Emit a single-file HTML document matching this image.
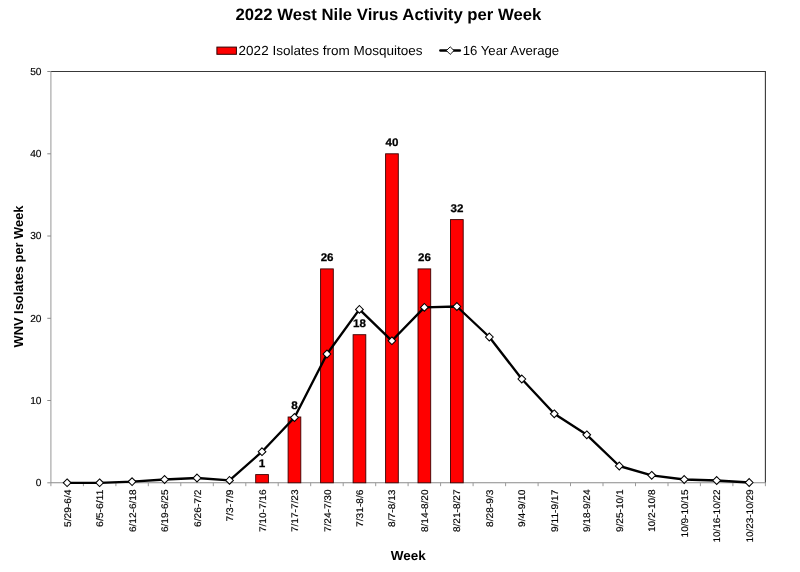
<!DOCTYPE html>
<html lang="en">
<head>
<meta charset="utf-8">
<title>2022 West Nile Virus Activity per Week</title>
<style>
html,body{margin:0;padding:0;background:#fff;}
body{width:800px;height:572px;overflow:hidden;}
svg{display:block;}
text{font-family:"Liberation Sans",sans-serif;fill:#000;text-rendering:geometricPrecision;}
.b{font-weight:bold;}
</style>
</head>
<body>
<svg width="800" height="572" viewBox="0 0 800 572">
<rect x="0" y="0" width="800" height="572" fill="#ffffff"/>
<text class="b" x="388.4" y="19.5" font-size="16.5" text-anchor="middle" textLength="306" lengthAdjust="spacingAndGlyphs">2022 West Nile Virus Activity per Week</text>
<rect x="216.9" y="47.1" width="19.5" height="7.2" fill="#ff0000" stroke="#300000" stroke-width="1"/>
<text x="238.6" y="54.7" font-size="13.2" textLength="184" lengthAdjust="spacingAndGlyphs">2022 Isolates from Mosquitoes</text>
<line x1="440.4" y1="50.6" x2="459.8" y2="50.6" stroke="#000" stroke-width="2.5" stroke-linecap="round"/>
<path d="M450.2 46.8 L454 50.6 L450.2 54.4 L446.4 50.6 Z" fill="#fff" stroke="#000" stroke-width="0.9"/>
<text x="462.7" y="54.7" font-size="13.2" textLength="96.5" lengthAdjust="spacingAndGlyphs">16 Year Average</text>
<polyline points="50.9,71.5 765.4,71.5 765.4,482.8" fill="none" stroke="#383838" stroke-width="1.1"/>
<line x1="50.9" y1="71.5" x2="50.9" y2="482.8" stroke="#a0a0a0" stroke-width="1.1"/>
<line x1="50.9" y1="482.8" x2="765.4" y2="482.8" stroke="#8a8a8a" stroke-width="1.1"/>
<line x1="47.3" y1="482.8" x2="50.9" y2="482.8" stroke="#8a8a8a" stroke-width="1"/>
<text x="41.5" y="486.1" font-size="10.2" text-anchor="end" stroke="#000" stroke-width="0.15">0</text>
<line x1="47.3" y1="400.5" x2="50.9" y2="400.5" stroke="#8a8a8a" stroke-width="1"/>
<text x="41.5" y="403.8" font-size="10.2" text-anchor="end" stroke="#000" stroke-width="0.15">10</text>
<line x1="47.3" y1="318.3" x2="50.9" y2="318.3" stroke="#8a8a8a" stroke-width="1"/>
<text x="41.5" y="321.6" font-size="10.2" text-anchor="end" stroke="#000" stroke-width="0.15">20</text>
<line x1="47.3" y1="236.0" x2="50.9" y2="236.0" stroke="#8a8a8a" stroke-width="1"/>
<text x="41.5" y="239.3" font-size="10.2" text-anchor="end" stroke="#000" stroke-width="0.15">30</text>
<line x1="47.3" y1="153.8" x2="50.9" y2="153.8" stroke="#8a8a8a" stroke-width="1"/>
<text x="41.5" y="157.1" font-size="10.2" text-anchor="end" stroke="#000" stroke-width="0.15">40</text>
<line x1="47.3" y1="71.5" x2="50.9" y2="71.5" stroke="#8a8a8a" stroke-width="1"/>
<text x="41.5" y="74.8" font-size="10.2" text-anchor="end" stroke="#000" stroke-width="0.15">50</text>
<line x1="50.9" y1="482.8" x2="50.9" y2="486.2" stroke="#9a9a9a" stroke-width="1"/>
<line x1="83.4" y1="482.8" x2="83.4" y2="486.2" stroke="#9a9a9a" stroke-width="1"/>
<line x1="115.9" y1="482.8" x2="115.9" y2="486.2" stroke="#9a9a9a" stroke-width="1"/>
<line x1="148.3" y1="482.8" x2="148.3" y2="486.2" stroke="#9a9a9a" stroke-width="1"/>
<line x1="180.8" y1="482.8" x2="180.8" y2="486.2" stroke="#9a9a9a" stroke-width="1"/>
<line x1="213.3" y1="482.8" x2="213.3" y2="486.2" stroke="#9a9a9a" stroke-width="1"/>
<line x1="245.8" y1="482.8" x2="245.8" y2="486.2" stroke="#9a9a9a" stroke-width="1"/>
<line x1="278.2" y1="482.8" x2="278.2" y2="486.2" stroke="#9a9a9a" stroke-width="1"/>
<line x1="310.7" y1="482.8" x2="310.7" y2="486.2" stroke="#9a9a9a" stroke-width="1"/>
<line x1="343.2" y1="482.8" x2="343.2" y2="486.2" stroke="#9a9a9a" stroke-width="1"/>
<line x1="375.7" y1="482.8" x2="375.7" y2="486.2" stroke="#9a9a9a" stroke-width="1"/>
<line x1="408.1" y1="482.8" x2="408.1" y2="486.2" stroke="#9a9a9a" stroke-width="1"/>
<line x1="440.6" y1="482.8" x2="440.6" y2="486.2" stroke="#9a9a9a" stroke-width="1"/>
<line x1="473.1" y1="482.8" x2="473.1" y2="486.2" stroke="#9a9a9a" stroke-width="1"/>
<line x1="505.6" y1="482.8" x2="505.6" y2="486.2" stroke="#9a9a9a" stroke-width="1"/>
<line x1="538.1" y1="482.8" x2="538.1" y2="486.2" stroke="#9a9a9a" stroke-width="1"/>
<line x1="570.5" y1="482.8" x2="570.5" y2="486.2" stroke="#9a9a9a" stroke-width="1"/>
<line x1="603.0" y1="482.8" x2="603.0" y2="486.2" stroke="#9a9a9a" stroke-width="1"/>
<line x1="635.5" y1="482.8" x2="635.5" y2="486.2" stroke="#9a9a9a" stroke-width="1"/>
<line x1="668.0" y1="482.8" x2="668.0" y2="486.2" stroke="#9a9a9a" stroke-width="1"/>
<line x1="700.4" y1="482.8" x2="700.4" y2="486.2" stroke="#9a9a9a" stroke-width="1"/>
<line x1="732.9" y1="482.8" x2="732.9" y2="486.2" stroke="#9a9a9a" stroke-width="1"/>
<line x1="765.4" y1="482.8" x2="765.4" y2="486.2" stroke="#9a9a9a" stroke-width="1"/>
<rect x="255.7" y="474.6" width="12.7" height="8.2" fill="#ff0000" stroke="#3a0000" stroke-width="0.9"/>
<rect x="288.1" y="417.0" width="12.7" height="65.8" fill="#ff0000" stroke="#3a0000" stroke-width="0.9"/>
<rect x="320.6" y="268.9" width="12.7" height="213.9" fill="#ff0000" stroke="#3a0000" stroke-width="0.9"/>
<rect x="353.1" y="334.7" width="12.7" height="148.1" fill="#ff0000" stroke="#3a0000" stroke-width="0.9"/>
<rect x="385.6" y="153.8" width="12.7" height="329.0" fill="#ff0000" stroke="#3a0000" stroke-width="0.9"/>
<rect x="418.0" y="268.9" width="12.7" height="213.9" fill="#ff0000" stroke="#3a0000" stroke-width="0.9"/>
<rect x="450.5" y="219.6" width="12.7" height="263.2" fill="#ff0000" stroke="#3a0000" stroke-width="0.9"/>
<polyline points="67.1,482.8 99.6,482.8 132.1,481.6 164.6,479.5 197.0,478.0 229.5,480.4 262.0,451.7 294.5,417.5 327.0,354.0 359.4,309.4 391.9,340.8 424.4,307.4 456.9,306.5 489.3,337.0 521.8,379.0 554.3,413.8 586.8,434.8 619.3,466.0 651.7,475.3 684.2,479.5 716.7,480.5 749.2,482.5" fill="none" stroke="#000" stroke-width="2.35" stroke-linejoin="round" stroke-linecap="round"/>
<path d="M67.1 478.9 L71.0 482.8 L67.1 486.6 L63.3 482.8 Z" fill="#fff" stroke="#000" stroke-width="1.05"/>
<path d="M99.6 478.9 L103.5 482.8 L99.6 486.6 L95.8 482.8 Z" fill="#fff" stroke="#000" stroke-width="1.05"/>
<path d="M132.1 477.8 L135.9 481.6 L132.1 485.5 L128.2 481.6 Z" fill="#fff" stroke="#000" stroke-width="1.05"/>
<path d="M164.6 475.6 L168.4 479.5 L164.6 483.4 L160.7 479.5 Z" fill="#fff" stroke="#000" stroke-width="1.05"/>
<path d="M197.0 474.1 L200.9 478.0 L197.0 481.9 L193.2 478.0 Z" fill="#fff" stroke="#000" stroke-width="1.05"/>
<path d="M229.5 476.5 L233.4 480.4 L229.5 484.2 L225.7 480.4 Z" fill="#fff" stroke="#000" stroke-width="1.05"/>
<path d="M262.0 447.8 L265.9 451.7 L262.0 455.6 L258.2 451.7 Z" fill="#fff" stroke="#000" stroke-width="1.05"/>
<path d="M294.5 413.6 L298.3 417.5 L294.5 421.4 L290.6 417.5 Z" fill="#fff" stroke="#000" stroke-width="1.05"/>
<path d="M327.0 350.1 L330.8 354.0 L327.0 357.9 L323.1 354.0 Z" fill="#fff" stroke="#000" stroke-width="1.05"/>
<path d="M359.4 305.5 L363.3 309.4 L359.4 313.2 L355.6 309.4 Z" fill="#fff" stroke="#000" stroke-width="1.05"/>
<path d="M391.9 336.9 L395.8 340.8 L391.9 344.6 L388.1 340.8 Z" fill="#fff" stroke="#000" stroke-width="1.05"/>
<path d="M424.4 303.5 L428.2 307.4 L424.4 311.2 L420.5 307.4 Z" fill="#fff" stroke="#000" stroke-width="1.05"/>
<path d="M456.9 302.6 L460.7 306.5 L456.9 310.4 L453.0 306.5 Z" fill="#fff" stroke="#000" stroke-width="1.05"/>
<path d="M489.3 333.1 L493.2 337.0 L489.3 340.9 L485.5 337.0 Z" fill="#fff" stroke="#000" stroke-width="1.05"/>
<path d="M521.8 375.1 L525.7 379.0 L521.8 382.9 L518.0 379.0 Z" fill="#fff" stroke="#000" stroke-width="1.05"/>
<path d="M554.3 409.9 L558.1 413.8 L554.3 417.7 L550.4 413.8 Z" fill="#fff" stroke="#000" stroke-width="1.05"/>
<path d="M586.8 430.9 L590.6 434.8 L586.8 438.7 L582.9 434.8 Z" fill="#fff" stroke="#000" stroke-width="1.05"/>
<path d="M619.3 462.1 L623.1 466.0 L619.3 469.9 L615.4 466.0 Z" fill="#fff" stroke="#000" stroke-width="1.05"/>
<path d="M651.7 471.4 L655.6 475.3 L651.7 479.2 L647.9 475.3 Z" fill="#fff" stroke="#000" stroke-width="1.05"/>
<path d="M684.2 475.6 L688.1 479.5 L684.2 483.4 L680.4 479.5 Z" fill="#fff" stroke="#000" stroke-width="1.05"/>
<path d="M716.7 476.6 L720.5 480.5 L716.7 484.4 L712.8 480.5 Z" fill="#fff" stroke="#000" stroke-width="1.05"/>
<path d="M749.2 478.6 L753.0 482.5 L749.2 486.4 L745.3 482.5 Z" fill="#fff" stroke="#000" stroke-width="1.05"/>
<text class="b" x="262.1" y="467.0" font-size="11" text-anchor="middle" textLength="6.5" lengthAdjust="spacingAndGlyphs" stroke="#000" stroke-width="0.25">1</text>
<text class="b" x="294.6" y="409.4" font-size="11" text-anchor="middle" textLength="6.5" lengthAdjust="spacingAndGlyphs" stroke="#000" stroke-width="0.25">8</text>
<text class="b" x="327.1" y="261.3" font-size="11" text-anchor="middle" textLength="12.9" lengthAdjust="spacingAndGlyphs" stroke="#000" stroke-width="0.25">26</text>
<text class="b" x="359.5" y="327.1" font-size="11" text-anchor="middle" textLength="12.9" lengthAdjust="spacingAndGlyphs" stroke="#000" stroke-width="0.25">18</text>
<text class="b" x="392.0" y="146.2" font-size="11" text-anchor="middle" textLength="12.9" lengthAdjust="spacingAndGlyphs" stroke="#000" stroke-width="0.25">40</text>
<text class="b" x="424.5" y="261.3" font-size="11" text-anchor="middle" textLength="12.9" lengthAdjust="spacingAndGlyphs" stroke="#000" stroke-width="0.25">26</text>
<text class="b" x="457.0" y="212.0" font-size="11" text-anchor="middle" textLength="12.9" lengthAdjust="spacingAndGlyphs" stroke="#000" stroke-width="0.25">32</text>
<text transform="translate(70.6 489.5) rotate(-90)" font-size="9.6" text-anchor="end" stroke="#000" stroke-width="0.15" textLength="37.4" lengthAdjust="spacingAndGlyphs">5/29-6/4</text>
<text transform="translate(103.1 489.5) rotate(-90)" font-size="9.6" text-anchor="end" stroke="#000" stroke-width="0.15" textLength="37.4" lengthAdjust="spacingAndGlyphs">6/5-6/11</text>
<text transform="translate(135.6 489.5) rotate(-90)" font-size="9.6" text-anchor="end" stroke="#000" stroke-width="0.15" textLength="42.6" lengthAdjust="spacingAndGlyphs">6/12-6/18</text>
<text transform="translate(168.1 489.5) rotate(-90)" font-size="9.6" text-anchor="end" stroke="#000" stroke-width="0.15" textLength="42.6" lengthAdjust="spacingAndGlyphs">6/19-6/25</text>
<text transform="translate(200.5 489.5) rotate(-90)" font-size="9.6" text-anchor="end" stroke="#000" stroke-width="0.15" textLength="37.4" lengthAdjust="spacingAndGlyphs">6/26-7/2</text>
<text transform="translate(233.0 489.5) rotate(-90)" font-size="9.6" text-anchor="end" stroke="#000" stroke-width="0.15" textLength="32.1" lengthAdjust="spacingAndGlyphs">7/3-7/9</text>
<text transform="translate(265.5 489.5) rotate(-90)" font-size="9.6" text-anchor="end" stroke="#000" stroke-width="0.15" textLength="42.6" lengthAdjust="spacingAndGlyphs">7/10-7/16</text>
<text transform="translate(298.0 489.5) rotate(-90)" font-size="9.6" text-anchor="end" stroke="#000" stroke-width="0.15" textLength="42.6" lengthAdjust="spacingAndGlyphs">7/17-7/23</text>
<text transform="translate(330.5 489.5) rotate(-90)" font-size="9.6" text-anchor="end" stroke="#000" stroke-width="0.15" textLength="42.6" lengthAdjust="spacingAndGlyphs">7/24-7/30</text>
<text transform="translate(362.9 489.5) rotate(-90)" font-size="9.6" text-anchor="end" stroke="#000" stroke-width="0.15" textLength="37.4" lengthAdjust="spacingAndGlyphs">7/31-8/6</text>
<text transform="translate(395.4 489.5) rotate(-90)" font-size="9.6" text-anchor="end" stroke="#000" stroke-width="0.15" textLength="37.4" lengthAdjust="spacingAndGlyphs">8/7-8/13</text>
<text transform="translate(427.9 489.5) rotate(-90)" font-size="9.6" text-anchor="end" stroke="#000" stroke-width="0.15" textLength="42.6" lengthAdjust="spacingAndGlyphs">8/14-8/20</text>
<text transform="translate(460.4 489.5) rotate(-90)" font-size="9.6" text-anchor="end" stroke="#000" stroke-width="0.15" textLength="42.6" lengthAdjust="spacingAndGlyphs">8/21-8/27</text>
<text transform="translate(492.8 489.5) rotate(-90)" font-size="9.6" text-anchor="end" stroke="#000" stroke-width="0.15" textLength="37.4" lengthAdjust="spacingAndGlyphs">8/28-9/3</text>
<text transform="translate(525.3 489.5) rotate(-90)" font-size="9.6" text-anchor="end" stroke="#000" stroke-width="0.15" textLength="37.4" lengthAdjust="spacingAndGlyphs">9/4-9/10</text>
<text transform="translate(557.8 489.5) rotate(-90)" font-size="9.6" text-anchor="end" stroke="#000" stroke-width="0.15" textLength="42.6" lengthAdjust="spacingAndGlyphs">9/11-9/17</text>
<text transform="translate(590.3 489.5) rotate(-90)" font-size="9.6" text-anchor="end" stroke="#000" stroke-width="0.15" textLength="42.6" lengthAdjust="spacingAndGlyphs">9/18-9/24</text>
<text transform="translate(622.8 489.5) rotate(-90)" font-size="9.6" text-anchor="end" stroke="#000" stroke-width="0.15" textLength="42.6" lengthAdjust="spacingAndGlyphs">9/25-10/1</text>
<text transform="translate(655.2 489.5) rotate(-90)" font-size="9.6" text-anchor="end" stroke="#000" stroke-width="0.15" textLength="42.6" lengthAdjust="spacingAndGlyphs">10/2-10/8</text>
<text transform="translate(687.7 489.5) rotate(-90)" font-size="9.6" text-anchor="end" stroke="#000" stroke-width="0.15" textLength="47.9" lengthAdjust="spacingAndGlyphs">10/9-10/15</text>
<text transform="translate(720.2 489.5) rotate(-90)" font-size="9.6" text-anchor="end" stroke="#000" stroke-width="0.15" textLength="53.1" lengthAdjust="spacingAndGlyphs">10/16-10/22</text>
<text transform="translate(752.7 489.5) rotate(-90)" font-size="9.6" text-anchor="end" stroke="#000" stroke-width="0.15" textLength="53.1" lengthAdjust="spacingAndGlyphs">10/23-10/29</text>
<text class="b" x="408.2" y="560" font-size="13" text-anchor="middle" textLength="35" lengthAdjust="spacingAndGlyphs">Week</text>
<text class="b" transform="translate(22.9 276.5) rotate(-90)" font-size="13" text-anchor="middle" textLength="142" lengthAdjust="spacingAndGlyphs">WNV Isolates per Week</text>
</svg>
</body>
</html>
